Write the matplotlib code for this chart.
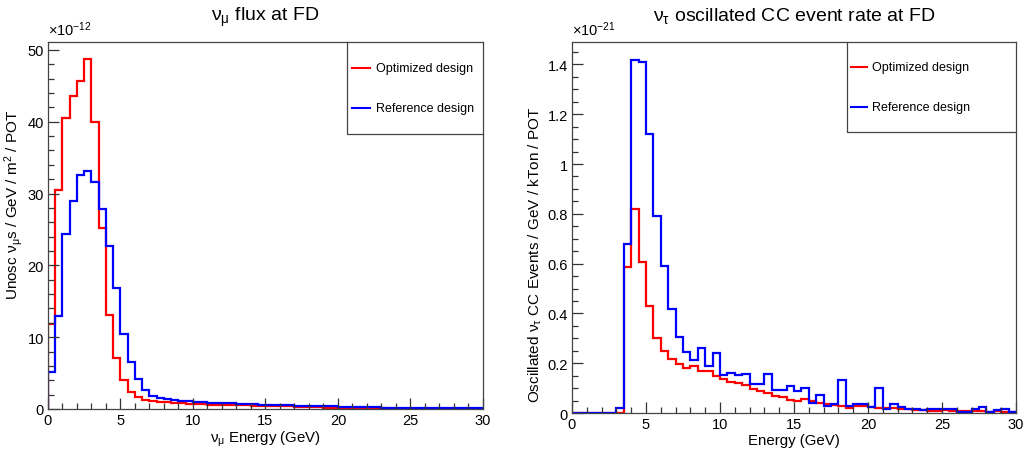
import numpy as np
import matplotlib
matplotlib.use("Agg")
import matplotlib.pyplot as plt
from matplotlib.ticker import MultipleLocator, FuncFormatter

plt.rcParams['font.family'] = ['Liberation Sans', 'DejaVu Sans']
plt.rcParams['mathtext.fontset'] = 'custom'
plt.rcParams['mathtext.rm'] = 'Liberation Sans'
plt.rcParams['mathtext.it'] = 'Liberation Sans:italic'

# 0.5 GeV bins from 0 to 30 GeV
bin_width = 0.5
n_bins = 60

# left panel: numu flux (units of 1e-12)
flux_opt = [11.8, 30.5, 40.5, 43.6, 45.7, 48.7, 39.9, 25.2, 13.1, 7.1,
            4.0, 2.3, 1.6, 1.3, 1.07, 0.97, 0.93, 0.84, 0.78, 0.74,
            0.68, 0.65, 0.62, 0.6, 0.57, 0.55, 0.52, 0.5, 0.48, 0.45,
            0.4, 0.38, 0.37, 0.36, 0.33, 0.32, 0.25, 0.23, 0.2, 0.2,
            0.15, 0.14, 0.14, 0.13, 0.12, 0.12, 0.1, 0.02, 0, 0,
            0, 0, 0, 0, 0, 0, 0, 0, 0, 0]
flux_ref = [5.2, 13.0, 24.4, 28.9, 32.6, 33.2, 31.6, 27.8, 22.7, 16.9,
            10.4, 6.5, 4.2, 2.6, 1.86, 1.49, 1.4, 1.3, 1.16, 1.1,
            1.0, 0.93, 0.88, 0.84, 0.8, 0.78, 0.74, 0.7, 0.65, 0.62,
            0.6, 0.57, 0.55, 0.52, 0.48, 0.45, 0.42, 0.4, 0.38, 0.35,
            0.3, 0.28, 0.26, 0.25, 0.24, 0.22, 0.2, 0.18, 0.16, 0.15,
            0.14, 0.13, 0.12, 0.11, 0.1, 0.1, 0.09, 0.08, 0.08, 0.07]

# right panel: nutau CC event rate (units of 1e-21)
rate_opt = [0, 0, 0, 0, 0, 0, 0, 0.587, 0.82, 0.605,
            0.431, 0.302, 0.248, 0.215, 0.197, 0.181, 0.19, 0.168, 0.17, 0.148,
            0.135, 0.124, 0.119, 0.111, 0.097, 0.088, 0.081, 0.07, 0.064, 0.054,
            0.048, 0.058, 0.048, 0.041, 0.037, 0.034, 0.028, 0.021, 0.028, 0.03,
            0.025, 0.02, 0.022, 0.02, 0.015, 0.015, 0.012, 0.012, 0.01, 0.01,
            0.012, 0.008, 0.007, 0.007, 0.01, 0.01, 0.005, 0.007, 0.005, 0.004]
rate_ref = [0, 0, 0, 0, 0, 0, 0.02, 0.68, 1.419, 1.409,
            1.12, 0.79, 0.592, 0.416, 0.305, 0.244, 0.211, 0.262, 0.19, 0.242,
            0.152, 0.16, 0.154, 0.156, 0.117, 0.117, 0.156, 0.094, 0.094, 0.11,
            0.088, 0.1, 0.041, 0.073, 0.03, 0.038, 0.131, 0.027, 0.038, 0.037,
            0.025, 0.10, 0.015, 0.037, 0.024, 0.015, 0.018, 0.012, 0.015, 0.015,
            0.018, 0.018, 0.005, 0.005, 0.018, 0.024, 0.005, 0.012, 0.018, 0.005]

labels = ["Optimized design", "Reference design"]
colors = ["#ff0000", "#0000ff"]

edges = np.arange(n_bins + 1) * bin_width


def root_fmt(v, pos):
    return "%g" % round(v, 6)


def style_axes(ax, ymax, ymajor, yminor):
    ax.set_xlim(0, 30)
    ax.set_ylim(0, ymax)
    ax.xaxis.set_major_locator(MultipleLocator(5))
    ax.xaxis.set_minor_locator(MultipleLocator(1))
    ax.yaxis.set_major_locator(MultipleLocator(ymajor))
    ax.yaxis.set_minor_locator(MultipleLocator(yminor))
    ax.xaxis.set_major_formatter(FuncFormatter(root_fmt))
    ax.yaxis.set_major_formatter(FuncFormatter(root_fmt))
    ax.tick_params(which='both', direction='in', top=False, right=False,
                   color='#333333', labelsize=10.5)
    ax.tick_params(which='major', length=8, width=0.9, pad=3)
    ax.tick_params(which='minor', length=4.5, width=0.9)
    for s in ax.spines.values():
        s.set_color('#444444')
        s.set_linewidth(0.9)


def draw_legend(ax, x0, y0, dx):
    # ROOT-like legend box attached to the top right corner
    ax.plot([x0, x0, 1.0], [1.0, y0, y0], transform=ax.transAxes,
            color='#444444', lw=0.9, clip_on=False)
    ys = [y0 + (1 - y0) * 0.72, y0 + (1 - y0) * 0.28]
    for lab, c, yy in zip(labels, colors, ys):
        ax.plot([x0 + dx * 0.18, x0 + dx * 0.9], [yy, yy], transform=ax.transAxes,
                color=c, lw=1.5)
        ax.text(x0 + dx * 1.12, yy, lab, transform=ax.transAxes, fontsize=9,
                va='center', ha='left')


fig = plt.figure(figsize=(10.25, 4.56), dpi=100)
ax1 = fig.add_axes([0.0468, 0.1009, 0.4244, 0.8048])
ax2 = fig.add_axes([0.558, 0.0921, 0.4332, 0.8136])

# left: flux
ax1.stairs(flux_opt, edges, color=colors[0], lw=1.6)
ax1.stairs(flux_ref, edges, color=colors[1], lw=1.6)
style_axes(ax1, 51.1, 10, 2)
draw_legend(ax1, 0.687, 0.75, 0.06)
ax1.set_title(r"ν$_{\mathregular{μ}}$ flux at FD", fontsize=14, pad=16)
ax1.set_xlabel(r"ν$_{\mathregular{μ}}$ Energy (GeV)", fontsize=10.8, labelpad=1)
ax1.set_ylabel(r"Unosc ν$_{\mathregular{μ}}$s / GeV / m$^{\mathregular{2}}$ / POT",
               fontsize=11)
ax1.yaxis.set_label_coords(-0.052, 0.56)
ax1.text(0.0, 1.012, r"$\times\mathregular{10^{-12}}$", transform=ax1.transAxes,
         fontsize=10.5, ha='left', va='bottom')

# right: event rate
ax2.stairs(rate_opt, edges, color=colors[0], lw=1.6)
ax2.stairs(rate_ref, edges, color=colors[1], lw=1.6)
style_axes(ax2, 1.49, 0.2, 0.05)
draw_legend(ax2, 0.62, 0.757, 0.05)
ax2.set_title(r"ν$_{\mathregular{τ}}$ oscillated CC event rate at FD",
              fontsize=14, pad=16)
ax2.set_xlabel("Energy (GeV)", fontsize=10.8, labelpad=1)
ax2.set_ylabel(r"Oscillated ν$_{\mathregular{τ}}$ CC Events / GeV / kTon / POT",
               fontsize=11)
ax2.yaxis.set_label_coords(-0.062, 0.43)
ax2.text(0.0, 1.012, r"$\times\mathregular{10^{-21}}$", transform=ax2.transAxes,
         fontsize=10.5, ha='left', va='bottom')

fig.savefig("out.png", dpi=100)
